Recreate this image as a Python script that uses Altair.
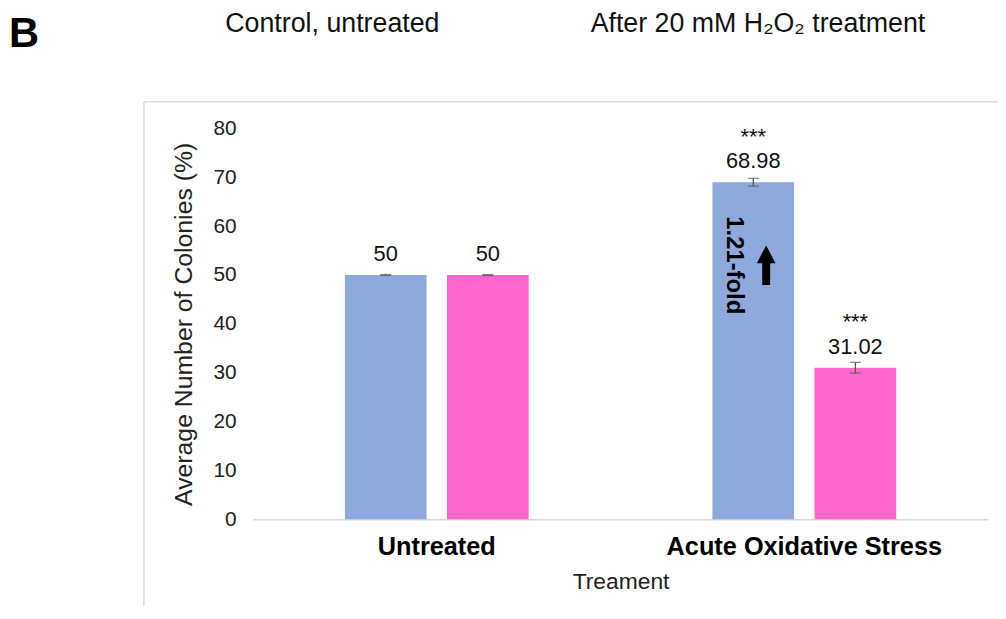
import altair as alt
import pandas as pd

groups = ["Untreated", "Untreated", "Acute Oxidative Stress", "Acute Oxidative Stress"]
series = ["Series 1", "Series 2", "Series 1", "Series 2"]
values = [50.0, 50.0, 68.98, 31.02]
errors = [0.1, 0.1, 0.8, 1.1]
labels = ["50", "50", "68.98", "31.02"]
stars = ["", "", "***", "***"]
group_order = ["Untreated", "Acute Oxidative Stress"]
series_order = ["Series 1", "Series 2"]
colors = ["#8EA9DB", "#FF66CC"]

df = pd.DataFrame({
    "group": groups, "series": series, "value": values, "err": errors,
    "label": labels, "stars": stars,
})
df["lo"] = df["value"] - df["err"]
df["hi"] = df["value"] + df["err"]

FONT = "Liberation Sans"

x = alt.X("group:N", sort=group_order,
          scale=alt.Scale(paddingInner=0.5, paddingOuter=0.25),
          axis=alt.Axis(title="Treament", labelFont=FONT, labelFontSize=25.5,
                        labelFontWeight="bold", labelColor="#000000", labelAngle=0,
                        labelLimit=0, labelPadding=15, ticks=False, domainColor="#d9d9d9",
                        domainWidth=1.5, titleFont=FONT, titleFontSize=23,
                        titleFontWeight="normal", titleColor="#222222",
                        titlePadding=11))
xo = alt.XOffset("series:N", sort=series_order,
                 scale=alt.Scale(paddingInner=0.2))
y = alt.Y("value:Q", scale=alt.Scale(domain=[0, 80]),
          axis=alt.Axis(title="Average Number of Colonies (%)", values=list(range(0, 81, 10)),
                        labelFont=FONT, labelFontSize=21, labelColor="#222222",
                        labelPadding=17, ticks=False, domain=False, grid=False,
                        titleFont=FONT, titleFontSize=25, titleFontWeight="normal",
                        titleColor="#222222", titlePadding=17))

xg = alt.X("group:N", sort=group_order)
base = alt.Chart(df)

bars = base.mark_bar().encode(
    x=x, xOffset=xo, y=y,
    color=alt.Color("series:N", sort=series_order,
                    scale=alt.Scale(domain=series_order, range=colors), legend=None),
)

err_rule = base.mark_rule(color="#595959", strokeWidth=1.3).encode(
    x=xg, xOffset=xo, y="lo:Q", y2="hi:Q")
cap_lo = base.mark_tick(color="#595959", thickness=1.3, size=11, orient="horizontal").encode(
    x=xg, xOffset=xo, y="lo:Q")
cap_hi = base.mark_tick(color="#595959", thickness=1.3, size=11, orient="horizontal").encode(
    x=xg, xOffset=xo, y="hi:Q")

val_text = base.mark_text(font=FONT, fontSize=22, color="#111111", dy=-14,
                          baseline="alphabetic").encode(
    x=xg, xOffset=xo, y="value:Q", text="label:N")
star_text = base.mark_text(font=FONT, fontSize=22, color="#111111", dy=-39,
                           baseline="alphabetic").encode(
    x=xg, xOffset=xo, y="value:Q", text="stars:N")

# annotation inside the raised bar
fold_df = pd.DataFrame({"group": ["Acute Oxidative Stress"], "series": ["Series 1"],
                        "pos": [52.0], "txt": ["1.21-fold"]})
fold_text = alt.Chart(fold_df).mark_text(font=FONT, fontSize=24, fontWeight="bold",
                                         angle=90, color="#000000", dy=19).encode(
    x=xg, xOffset=xo, y="pos:Q", text="txt:N")
arrow_path = ("M0.45,1L0.85,1L0.85,-0.1L1.12,-0.1L0.65,-1L0.18,-0.1L0.45,-0.1Z")
arrow = alt.Chart(fold_df).mark_point(shape=arrow_path, filled=True, color="#000000",
                                      opacity=1, size=1600, strokeWidth=0).encode(
    x=xg, xOffset=xo, y="pos:Q")

# decorative frame and figure texts
frame_top = alt.Chart(fold_df).mark_rule(color="#d9d9d9", strokeWidth=1.5).encode(
    x=alt.value(-110), x2=alt.value(800), y=alt.value(-27))
frame_left = alt.Chart(fold_df).mark_rule(color="#d9d9d9", strokeWidth=1.5).encode(
    x=alt.value(-110), y=alt.value(-27), y2=alt.value(520))
big_b = alt.Chart(fold_df).mark_text(text="B", font=FONT, fontSize=42, fontWeight="bold",
                                     align="left", baseline="alphabetic", color="#000000").encode(
    x=alt.value(-246), y=alt.value(-82))
top1 = alt.Chart(fold_df).mark_text(text="Control, untreated", font=FONT, fontSize=27,
                                    align="center", baseline="alphabetic", color="#111111").encode(
    x=alt.value(80), y=alt.value(-97))
top2 = alt.Chart(fold_df).mark_text(text="After 20 mM H₂O₂ treatment", font=FONT, fontSize=27,
                                    align="center", baseline="alphabetic", color="#111111").encode(
    x=alt.value(509), y=alt.value(-97))

chart = alt.layer(
    frame_top, frame_left, big_b, top1, top2,
    bars, err_rule, cap_lo, cap_hi, val_text, star_text, fold_text, arrow
).properties(
    width=741, height=394,
    background="white",
    autosize=alt.AutoSizeParams(type="none"),
    padding={"left": 247, "top": 119, "right": 10, "bottom": 85},
).configure_view(strokeWidth=0, stroke="transparent")

chart.save("out.html", embed_options={"renderer": "svg", "actions": False})
